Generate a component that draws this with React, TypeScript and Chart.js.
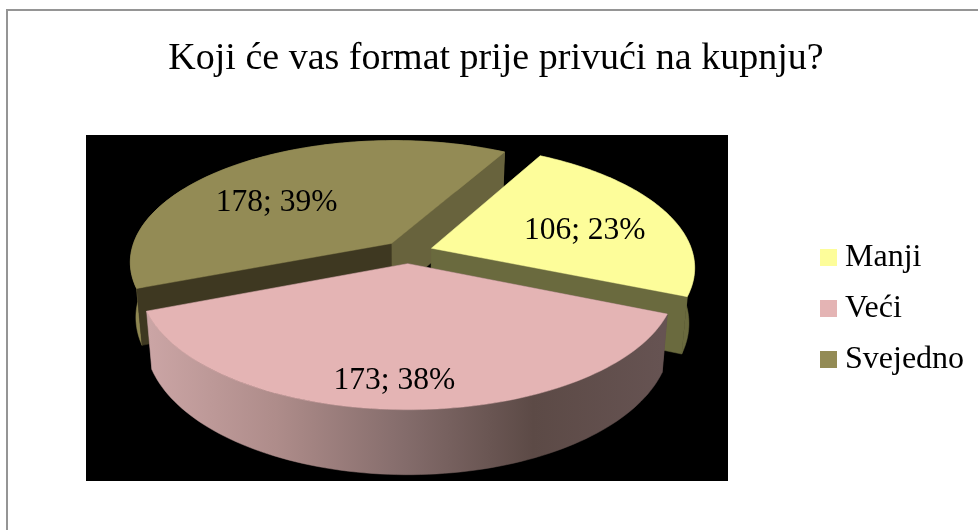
import React, { useEffect, useRef } from "react";
import { Chart, registerables } from "chart.js";

Chart.register(...registerables);

const categories = ["Manji", "Veći", "Svejedno"];
const counts = [106, 173, 178];
const percents = [23, 38, 39];
const topColors = ["#FDFD9A", "#E4B4B4", "#938B55"];
const cutWallColors = ["#6A6A3E", "#5E4C4A", "#3E3821"];
const endWallColors = ["#6A6A3E", "#5E4C4A", "#68633D"];
const titleText = "Koji će vas format prije privući na kupnju?";

const SERIF = '"Liberation Serif", "Times New Roman", serif';
const startRotation = 29;

// perspective camera for the flat pie that the library lays out
const cam = { cx: 408, cy: 252, r: 261, a: 0.1487, k: 120.5, depth: 54.4, shrink: 0.02 };
const plot = { left: 86, top: 135, right: 728, bottom: 481 };
const labelNudge = [[-12, 9], [-11, 20], [-6, 17]];
const drawOrder = [2, 0, 1];

function project(u: number, v: number, h: number) {
  const w = 1 - cam.a * v;
  return [cam.cx + (cam.r * u * (1 - cam.shrink * h)) / w, cam.cy + (cam.k * v + h * cam.depth) / w];
}

function poly(ctx: CanvasRenderingContext2D, pts: number[][], fill: any) {
  ctx.beginPath();
  pts.forEach((p, i) => (i ? ctx.lineTo(p[0], p[1]) : ctx.moveTo(p[0], p[1])));
  ctx.closePath();
  ctx.fillStyle = fill;
  ctx.strokeStyle = fill;
  ctx.lineWidth = 0.5;
  ctx.fill();
  ctx.stroke();
}

const pie3d = {
  id: "pie3d",
  beforeDraw(chart: any) {
    const ctx = chart.ctx;
    ctx.save();
    ctx.fillStyle = "#ffffff";
    ctx.fillRect(0, 0, chart.width, chart.height);
    ctx.fillStyle = "#959595";
    ctx.fillRect(7, 9, chart.width - 7, 2);
    ctx.fillRect(6, 9, 2, chart.height - 9);
    ctx.restore();
  },
  beforeDatasetsDraw(chart: any) {
    const ctx: CanvasRenderingContext2D = chart.ctx;
    ctx.save();
    ctx.fillStyle = "#000000";
    ctx.fillRect(plot.left, plot.top, plot.right - plot.left, plot.bottom - plot.top);

    const arcs = chart.getDatasetMeta(0).data;
    const frontWall = ctx.createLinearGradient(148, 0, 662, 0);
    frontWall.addColorStop(0, "#CBA5A5");
    frontWall.addColorStop(0.25, "#AE8C8A");
    frontWall.addColorStop(0.5, "#846C6B");
    frontWall.addColorStop(0.75, "#5C4A46");
    frontWall.addColorStop(1, "#665352");
    const outerFills = ["#6A6A3E", frontWall, "#8F8752"];

    drawOrder.forEach((i) => {
      const arc = arcs[i];
      const R = arc.outerRadius;
      const mid = (arc.startAngle + arc.endAngle) / 2;
      const e = arc.options.offset / R;
      const ox = Math.cos(mid) * e;
      const oy = Math.sin(mid) * e;
      const rim: number[][] = [];
      const n = 90;
      for (let s = 0; s <= n; s++) {
        const t = arc.startAngle + ((arc.endAngle - arc.startAngle) * s) / n;
        rim.push([ox + Math.cos(t), oy + Math.sin(t)]);
      }
      const top = rim.map((p) => project(p[0], p[1], 0));
      const bot = rim.map((p) => project(p[0], p[1], 1));
      const vTop = project(ox, oy, 0);
      const vBot = project(ox, oy, 1);
      const outerFaces = Math.sin(mid) > 0.5;

      if (!outerFaces) poly(ctx, [...top, ...bot.slice().reverse()], outerFills[i]);
      poly(ctx, [vTop, top[0], bot[0], vBot], cutWallColors[i]);
      poly(ctx, [vTop, top[n], bot[n], vBot], endWallColors[i]);
      if (outerFaces) poly(ctx, [...top, ...bot.slice().reverse()], outerFills[i]);
      poly(ctx, [vTop, ...top], topColors[i]);
    });

    ctx.fillStyle = "#000000";
    ctx.font = `31.5px ${SERIF}`;
    ctx.textAlign = "center";
    ctx.textBaseline = "middle";
    arcs.forEach((arc: any, i: number) => {
      const mid = (arc.startAngle + arc.endAngle) / 2;
      const f = 0.7 + arc.options.offset / arc.outerRadius;
      const p = project(Math.cos(mid) * f, Math.sin(mid) * f, 0);
      ctx.fillText(`${counts[i]}; ${percents[i]}%`, p[0] + labelNudge[i][0], p[1] + labelNudge[i][1]);
    });

    // legend
    ctx.textAlign = "left";
    ctx.textBaseline = "alphabetic";
    ctx.font = `32px ${SERIF}`;
    chart.data.labels.forEach((label: string, i: number) => {
      const y = 249 + i * 51;
      ctx.fillStyle = topColors[i];
      ctx.fillRect(820, y, 17, 17);
      ctx.fillStyle = "#000000";
      ctx.fillText(label, 845, y + 17);
    });
    ctx.restore();
    return false;
  },
};

export default function App() {
  const ref = useRef<HTMLCanvasElement>(null);
  useEffect(() => {
    const chart = new Chart(ref.current!, {
      type: "pie",
      data: {
        labels: categories,
        datasets: [{ data: counts, backgroundColor: topColors, borderWidth: 0, offset: 20, rotation: startRotation }],
      },
      options: {
        responsive: false,
        animation: false,
        events: [],
        layout: { padding: { left: 14 } },
        plugins: {
          legend: { display: false },
          tooltip: { enabled: false },
          title: {
            display: true,
            text: titleText,
            color: "#000000",
            font: { family: SERIF, size: 38, weight: "normal" },
            padding: { top: 36, bottom: 10 },
          },
        },
      },
      plugins: [pie3d],
    } as any);
    return () => chart.destroy();
  }, []);
  return (
    <canvas
      ref={ref}
      width={978}
      height={530}
      style={{ position: "fixed", left: 0, top: 0, display: "block" }}
    />
  );
}
